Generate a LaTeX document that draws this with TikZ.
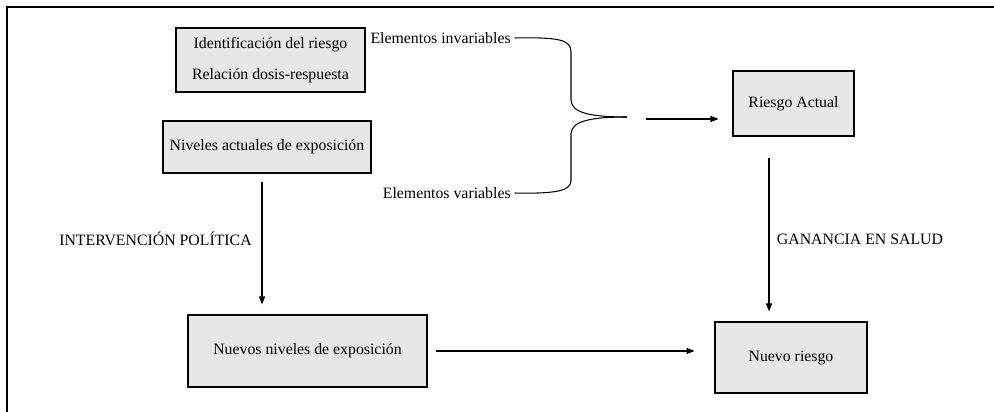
\documentclass[tikz,border=0pt]{standalone}
\usepackage{fontspec}
\setmainfont{Liberation Serif}
\usetikzlibrary{arrows.meta}
\definecolor{boxgray}{RGB}{231,231,231}
\tikzset{
  caja/.style={draw, fill=boxgray, line width=0.6pt, inner sep=0pt, align=center, font=\fontsize{9}{11}\selectfont},
  etiqueta/.style={inner sep=0pt, font=\fontsize{9}{11}\selectfont},
  flecha/.style={-{Triangle[length=1.6mm,width=1.2mm]}, line width=0.6pt}
}
\begin{document}
\begin{tikzpicture}[x=0.02cm, y=-0.02cm]
        \useasboundingbox (0,0) rectangle (994,412);
        \draw[line width=0.9pt] (994,7) -- (7,7) -- (7,412);

        \node[caja, minimum width=3.78cm, minimum height=1.28cm] (ident) at (270.5,60) {Identificación del riesgo\\[7pt]Relación dosis-respuesta};
        \node[caja, minimum width=4.16cm, minimum height=1.04cm] (niveles) at (267,147) {Niveles actuales de exposición};
        \node[caja, minimum width=4.78cm, minimum height=1.44cm] (nuevosniv) at (307.5,351) {Nuevos niveles de exposición};
        \node[caja, minimum width=2.42cm, minimum height=1.30cm] (actual) at (793.5,103.5) {Riesgo Actual};
        \node[caja, minimum width=3.04cm, minimum height=1.42cm] (nuevoriesgo) at (791,357.5) {Nuevo riesgo};

        \node[etiqueta, anchor=east] (invar) at (511,38) {Elementos invariables};
        \node[etiqueta, anchor=east] (var) at (511,193) {Elementos variables};
        \node[etiqueta] (interv) at (155.5,239) {INTERVENCIÓN POLÍTICA};
        \node[etiqueta] (ganancia) at (860,239) {GANANCIA EN SALUD};

        \coordinate (punta) at (627,117);
        \coordinate (salida) at (646,119);
        \draw[line width=0.6pt] ([xshift=2pt]invar.east) .. controls (560,37) and (571,40) .. (571,52) -- (571,100) .. controls (571,114) and (595,117) .. (punta);
        \draw[line width=0.6pt] ([xshift=2pt]var.east) .. controls (560,194) and (571,190) .. (571,180) -- (571,134) .. controls (571,120) and (595,117) .. (punta);

        \draw[flecha, shorten >=0.28cm] (salida) -- (salida -| actual.west);
        \draw[flecha, shorten <=0.16cm, shorten >=0.2cm] ([xshift=-0.1cm]niveles.south) -- ([xshift=-0.1cm]niveles.south |- nuevosniv.north);
        \draw[flecha, shorten <=0.42cm, shorten >=0.2cm] ([xshift=-0.49cm]actual.south) -- ([xshift=-0.49cm]actual.south |- nuevoriesgo.north);
        \draw[flecha, shorten <=0.16cm, shorten >=0.4cm] (nuevosniv.east) -- (nuevosniv.east -| nuevoriesgo.west);
\end{tikzpicture}
\end{document}
